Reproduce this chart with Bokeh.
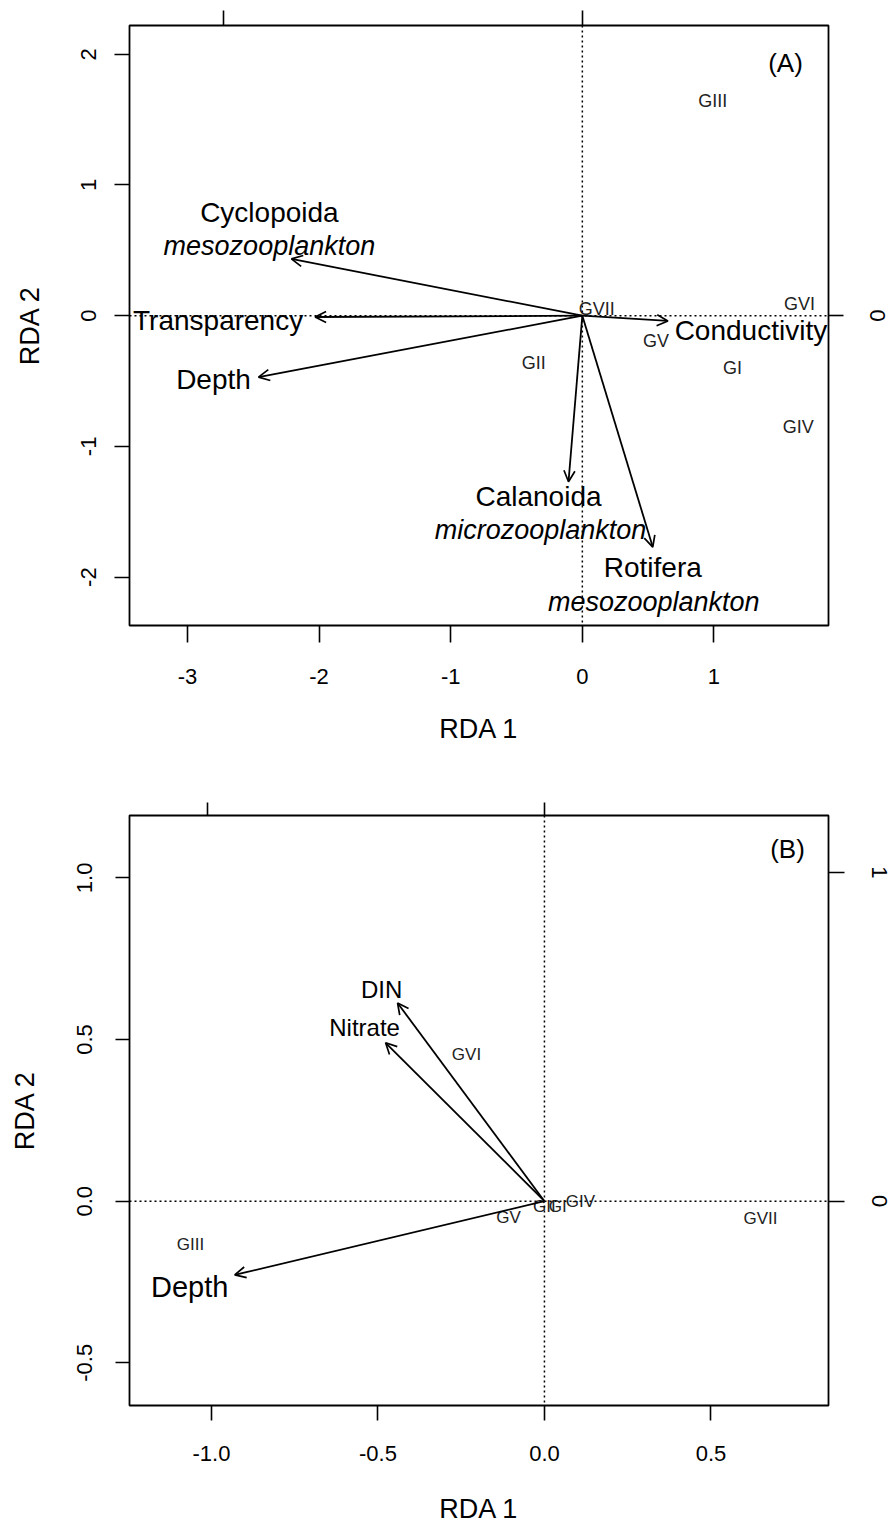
import numpy as np
from bokeh.plotting import figure
from bokeh.models import (ColumnDataSource, Arrow, OpenHead, Span, LinearAxis, Range1d,
                          FixedTicker, PrintfTickFormatter, CustomLabelingPolicy)
from bokeh.layouts import column
from bokeh.core.properties import value
from bokeh.embed import file_html
from bokeh.resources import INLINE

FONT = "Liberation Sans"

# ---------------- Panel A data ----------------
A_SITES = ["GI", "GII", "GIII", "GIV", "GV", "GVI", "GVII"]
A_SITE_X = [1.14, -0.37, 0.99, 1.64, 0.56, 1.65, 0.11]
A_SITE_Y = [-0.40, -0.36, 1.64, -0.85, -0.19, 0.09, 0.05]

A_VARS = ["Cyclopoida", "Transparency", "Depth", "Conductivity", "Calanoida", "Rotifera"]
A_VAR_X = [-2.21, -2.03, -2.46, 0.65, -0.105, 0.535]
A_VAR_Y = [0.435, -0.01, -0.47, -0.04, -1.27, -1.77]
A_VAR_SUB = ["mesozooplankton", "", "", "", "microzooplankton", "mesozooplankton"]

A_XTICKS = [-3, -2, -1, 0, 1]
A_YTICKS = [-2, -1, 0, 1, 2]
A_TOPTICKS = [-1, 0]
A_RIGHTTICKS = [-1, 0, 1]

# ---------------- Panel B data ----------------
B_SITES = ["GI", "GII", "GIII", "GIV", "GV", "GVI", "GVII"]
B_SITE_X = [0.04, 0.0, -1.063, 0.108, -0.108, -0.234, 0.649]
B_SITE_Y = [-0.015, -0.015, -0.133, 0.0, -0.052, 0.453, -0.055]

B_VARS = ["DIN", "Nitrate", "Depth"]
B_VAR_X = [-0.441, -0.477, -0.93]
B_VAR_Y = [0.613, 0.49, -0.228]

B_XTICKS = [-1.0, -0.5, 0.0, 0.5]
B_YTICKS = [-0.5, 0.0, 0.5, 1.0]
B_TOPTICKS = [-1, 0]
B_RIGHTTICKS = [-1, 0, 1]

# ---------------- styles (pixel offsets of labels from arrow tips) ----------------
A_LABEL_DX = [-22, -97, -45, 83, -30, 0]
A_LABEL_DY = [-46, 3, 2, 10, 15, 20]
A_SUB_DX = [-22, 0, 0, 0, -28, 1]
A_SUB_DY = [-13, 0, 0, 0, 48, 55]
B_LABEL_DX = [-16, -21, -45]
B_LABEL_DY = [-14, -15, 12]
B_LABEL_SIZE = ["24px", "24px", "29px"]

TICK_FONT = "22px"
TITLE_FONT = "27px"


def style_axis(ax, tick_out, standoff, size=TICK_FONT, orient=None):
    ax.major_tick_out = tick_out
    ax.major_tick_in = 0
    ax.minor_tick_out = 0
    ax.minor_tick_in = 0
    ax.axis_line_color = None
    ax.major_tick_line_width = 1.6
    ax.major_tick_line_color = "black"
    ax.major_label_standoff = standoff
    ax.major_label_text_font = FONT
    ax.major_label_text_font_size = size
    ax.major_label_text_color = "black"
    if orient is not None:
        ax.major_label_orientation = orient


def make_panel(width, height, xr, yr, borders, xticks, yticks, xfmt, yfmt,
               top_scale, top_ticks, right_scale, right_ticks, axcfg):
    p = figure(width=width, height=height, x_range=Range1d(*xr), y_range=Range1d(*yr),
               output_backend="svg", toolbar_location=None,
               min_border_left=borders[0], min_border_right=borders[1],
               min_border_top=borders[2], min_border_bottom=borders[3])
    p.grid.visible = False
    p.outline_line_color = "black"
    p.outline_line_width = 1.8
    p.background_fill_color = "white"
    p.border_fill_color = "white"

    xa = p.xaxis[0]
    ya = p.yaxis[0]
    xa.ticker = FixedTicker(ticks=xticks)
    ya.ticker = FixedTicker(ticks=yticks)
    xa.formatter = PrintfTickFormatter(format=xfmt)
    ya.formatter = PrintfTickFormatter(format=yfmt)
    style_axis(xa, axcfg["bottom_tick"], axcfg["bottom_standoff"])
    style_axis(ya, axcfg["left_tick"], axcfg["left_standoff"], orient="vertical")
    xa.axis_label = "RDA 1"
    ya.axis_label = "RDA 2"
    for ax, st in ((xa, axcfg["bottom_title_standoff"]), (ya, axcfg["left_title_standoff"])):
        ax.axis_label_text_font = FONT
        ax.axis_label_text_font_size = TITLE_FONT
        ax.axis_label_text_font_style = "normal"
        ax.axis_label_text_color = "black"
        ax.axis_label_standoff = st

    p.extra_x_ranges = {"top": Range1d(xr[0] / top_scale, xr[1] / top_scale)}
    p.extra_y_ranges = {"right": Range1d(yr[0] / right_scale, yr[1] / right_scale)}
    # top axis: tick marks only (its labels lie outside the cropped figure)
    top = LinearAxis(x_range_name="top", ticker=FixedTicker(ticks=top_ticks),
                     major_label_policy=CustomLabelingPolicy(code="return new Set()"))
    style_axis(top, axcfg["top_tick"], 0, size="1px")
    p.add_layout(top, "above")
    right = LinearAxis(y_range_name="right", ticker=FixedTicker(ticks=right_ticks),
                       formatter=PrintfTickFormatter(format="%d"))
    style_axis(right, axcfg["right_tick"], axcfg["right_standoff"], orient="vertical")
    p.add_layout(right, "right")

    p.add_layout(Span(location=0, dimension="width", line_dash="2 3", line_width=1.5,
                      line_color="black"))
    p.add_layout(Span(location=0, dimension="height", line_dash="2 3", line_width=1.5,
                      line_color="black"))
    return p


def add_arrows(p, xs, ys):
    n = len(xs)
    src = ColumnDataSource(dict(x0=[0.0] * n, y0=[0.0] * n, x1=xs, y1=ys))
    p.add_layout(Arrow(end=OpenHead(size=11, line_width=1.7, line_color="black"),
                       source=src, x_start="x0", y_start="y0", x_end="x1", y_end="y1",
                       line_width=1.8, line_color="black"))


def add_sites(p, names, xs, ys, size):
    src = ColumnDataSource(dict(x=xs, y=ys, t=names))
    p.text(x="x", y="y", text="t", source=src, text_font=value(FONT),
           text_font_size=value(size), text_align="center", text_baseline="middle",
           text_color="#222222")


# ---------------- Panel A ----------------
A_XR = (-3.44, 1.87)
A_YR = (-2.37, 2.22)
pA = make_panel(892, 785, A_XR, A_YR, (127, 60, 25, 160), A_XTICKS, A_YTICKS, "%d", "%d",
                2.727, A_TOPTICKS, 2.727, A_RIGHTTICKS,
                dict(bottom_tick=17, bottom_standoff=26, bottom_title_standoff=27,
                     left_tick=15, left_standoff=18, left_title_standoff=34,
                     top_tick=15, right_tick=15, right_standoff=26))
add_sites(pA, A_SITES, A_SITE_X, A_SITE_Y, "18px")
add_arrows(pA, A_VAR_X, A_VAR_Y)
srcA = ColumnDataSource(dict(x=A_VAR_X, y=A_VAR_Y, t=A_VARS, dx=A_LABEL_DX, dy=A_LABEL_DY))
pA.text(x="x", y="y", text="t", source=srcA, x_offset="dx", y_offset="dy",
        text_font=value(FONT), text_font_size=value("28px"), text_align="center",
        text_baseline="middle", text_color="black")
sub_idx = [i for i, s in enumerate(A_VAR_SUB) if s]
srcA2 = ColumnDataSource(dict(x=[A_VAR_X[i] for i in sub_idx], y=[A_VAR_Y[i] for i in sub_idx],
                              t=[A_VAR_SUB[i] for i in sub_idx],
                              dx=[A_SUB_DX[i] for i in sub_idx],
                              dy=[A_SUB_DY[i] for i in sub_idx]))
pA.text(x="x", y="y", text="t", source=srcA2, x_offset="dx", y_offset="dy",
        text_font=value(FONT), text_font_size=value("27px"), text_font_style="italic",
        text_align="center", text_baseline="middle", text_color="black")
pA.text(x=[A_XR[1]], y=[A_YR[1]], text=["(A)"], x_offset=-43, y_offset=37,
        text_font=value(FONT), text_font_size=value("26px"), text_align="center",
        text_baseline="middle", text_color="black")

# ---------------- Panel B ----------------
B_XR = (-1.246, 0.853)
B_YR = (-0.632, 1.193)
pB = make_panel(892, 741, B_XR, B_YR, (129, 64, 30, 119), B_XTICKS, B_YTICKS, "%.1f", "%.1f",
                1.012, B_TOPTICKS, 1.017, B_RIGHTTICKS,
                dict(bottom_tick=15, bottom_standoff=25, bottom_title_standoff=30,
                     left_tick=14, left_standoff=23, left_title_standoff=35,
                     top_tick=13, right_tick=16, right_standoff=27))
add_sites(pB, B_SITES, B_SITE_X, B_SITE_Y, "17px")
add_arrows(pB, B_VAR_X, B_VAR_Y)
srcB = ColumnDataSource(dict(x=B_VAR_X, y=B_VAR_Y, t=B_VARS, dx=B_LABEL_DX, dy=B_LABEL_DY,
                             fs=B_LABEL_SIZE))
pB.text(x="x", y="y", text="t", source=srcB, x_offset="dx", y_offset="dy",
        text_font=value(FONT), text_font_size="fs", text_align="center",
        text_baseline="middle", text_color="black")
pB.text(x=[B_XR[1]], y=[B_YR[1]], text=["(B)"], x_offset=-41, y_offset=33,
        text_font=value(FONT), text_font_size=value("26px"), text_align="center",
        text_baseline="middle", text_color="black")

layout = column(pA, pB)
open("out.html", "w").write(file_html(layout, INLINE))
